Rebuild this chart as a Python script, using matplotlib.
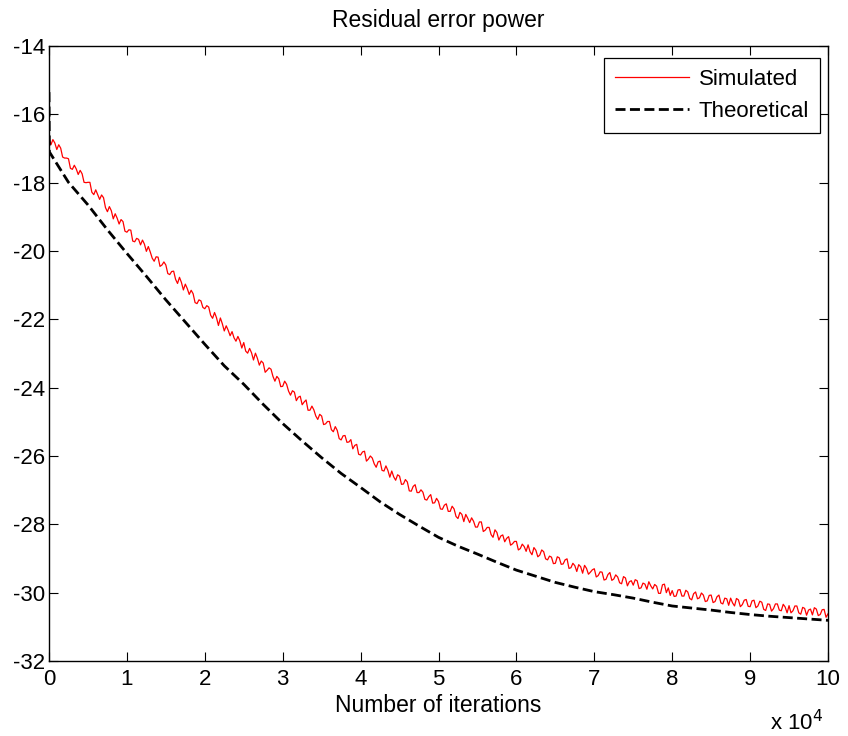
import numpy as np
import matplotlib
matplotlib.use("Agg")
import matplotlib.pyplot as plt

plt.rcParams['font.family'] = ['Liberation Sans', 'DejaVu Sans']

# Simulated residual error power (dB), one value every 500 iterations
sim_db = [
    -16.70, -16.74, -17.03, -16.99, -17.28, -17.30, -17.61, -17.60, -17.64, -17.99,
    -17.99, -18.28, -18.21, -18.49, -18.44, -18.85, -18.82, -18.91, -19.21, -19.14,
    -19.45, -19.39, -19.73, -19.66, -19.68, -20.01, -20.03, -20.30, -20.18, -20.41,
    -20.41, -20.69, -20.59, -20.95, -20.92, -20.97, -21.27, -21.25, -21.54, -21.46,
    -21.69, -21.64, -21.97, -21.95, -21.96, -22.34, -22.32, -22.36, -22.64, -22.63,
    -22.68, -22.99, -22.98, -22.99, -23.34, -23.28, -23.49, -23.46, -23.81, -23.74,
    -23.96, -23.90, -24.22, -24.13, -24.28, -24.50, -24.36, -24.66, -24.65, -24.93,
    -24.83, -25.06, -24.99, -25.29, -25.25, -25.53, -25.40, -25.59, -25.79, -25.66,
    -25.97, -25.86, -26.09, -26.06, -26.33, -26.15, -26.44, -26.42, -26.44, -26.71,
    -26.59, -26.82, -26.76, -27.03, -26.84, -27.07, -27.06, -27.29, -27.13, -27.37,
    -27.33, -27.56, -27.40, -27.62, -27.55, -27.83, -27.71, -27.71, -27.95, -27.91,
    -28.08, -27.93, -28.17, -28.09, -28.38, -28.24, -28.34, -28.51, -28.36, -28.57,
    -28.50, -28.71, -28.65, -28.60, -28.89, -28.76, -28.90, -28.80, -29.04, -28.96,
    -29.14, -28.98, -29.16, -29.01, -29.27, -29.21, -29.18, -29.43, -29.29, -29.40,
    -29.30, -29.50, -29.40, -29.61, -29.41, -29.60, -29.54, -29.74, -29.57, -29.68,
    -29.78, -29.65, -29.86, -29.75, -29.68, -29.89, -29.81, -30.02, -29.75, -29.86,
    -29.94, -30.10, -29.91, -30.10, -29.98, -30.21, -29.98, -30.15, -30.07, -30.24,
    -30.07, -30.26, -30.07, -30.33, -30.18, -30.16, -30.39, -30.21, -30.35, -30.20,
    -30.41, -30.22, -30.39, -30.28, -30.52, -30.34, -30.47, -30.33, -30.53, -30.42,
    -30.38, -30.53, -30.39, -30.63, -30.46, -30.51, -30.65, -30.48, -30.64, -30.49,
    -30.62,
]

# Simulated values half-way between the samples above (250, 750, ... iterations)
sim_db_half = [
    -16.89, -16.84, -16.89, -17.25, -17.28, -17.58, -17.49, -17.76, -17.74, -18.00,
    -17.99, -18.35, -18.35, -18.36, -18.73, -18.70, -19.06, -19.04, -19.08, -19.42,
    -19.38, -19.71, -19.63, -19.82, -19.80, -19.87, -20.21, -20.17, -20.45, -20.32,
    -20.66, -20.60, -20.83, -20.77, -21.14, -21.10, -21.15, -21.51, -21.43, -21.65,
    -21.60, -21.88, -21.80, -22.18, -22.13, -22.19, -22.48, -22.54, -22.50, -22.84,
    -22.93, -22.85, -23.19, -23.14, -23.22, -23.55, -23.42, -23.67, -23.67, -23.97,
    -23.81, -24.10, -24.09, -24.38, -24.25, -24.42, -24.66, -24.54, -24.83, -24.78,
    -25.08, -24.99, -25.23, -25.14, -25.49, -25.41, -25.60, -25.52, -25.69, -25.95,
    -25.88, -26.15, -26.00, -26.23, -26.17, -26.42, -26.29, -26.62, -26.61, -26.55,
    -26.83, -26.69, -27.02, -26.89, -27.07, -26.99, -27.27, -27.19, -27.38, -27.24,
    -27.55, -27.44, -27.62, -27.47, -27.77, -27.65, -27.92, -27.82, -27.81, -28.08,
    -27.93, -28.21, -28.09, -28.30, -28.16, -28.46, -28.31, -28.41, -28.61, -28.50,
    -28.75, -28.58, -28.79, -28.80, -28.68, -28.95, -28.75, -29.01, -28.93, -29.15,
    -28.95, -29.17, -29.04, -29.29, -29.14, -29.38, -29.24, -29.20, -29.46, -29.33,
    -29.54, -29.39, -29.63, -29.47, -29.64, -29.48, -29.71, -29.53, -29.80, -29.65,
    -29.62, -29.88, -29.72, -29.90, -29.80, -29.76, -30.02, -29.77, -30.00, -30.08,
    -30.11, -29.92, -30.10, -29.93, -30.17, -30.03, -30.18, -30.01, -30.26, -30.08,
    -30.29, -30.12, -30.30, -30.16, -30.37, -30.30, -30.17, -30.41, -30.22, -30.40,
    -30.24, -30.44, -30.25, -30.49, -30.33, -30.54, -30.33, -30.51, -30.34, -30.59,
    -30.59, -30.39, -30.59, -30.43, -30.66, -30.48, -30.44, -30.67, -30.50, -30.72,
]

# Theoretical residual error power (dB); x in units of 10^4 iterations
theo_x = [0.0, 0.005, 0.25, 0.50, 0.75, 1.00, 1.25, 1.50, 1.75, 2.00, 2.25, 2.50,
          2.75, 3.00, 3.25, 3.50, 3.75, 4.00, 4.25, 4.50, 4.75, 5.00, 5.25, 5.50,
          5.75, 6.00, 6.25, 6.50, 6.75, 7.00, 7.25, 7.50, 7.75, 8.00, 8.25, 8.50,
          8.75, 9.00, 9.25, 9.50, 9.75, 10.00]
theo_db = [-15.35, -17.10, -17.99, -18.65, -19.38, -20.07, -20.74, -21.43, -22.08,
           -22.73, -23.36, -23.90, -24.49, -25.05, -25.56, -26.05, -26.51, -26.92,
           -27.34, -27.71, -28.05, -28.38, -28.64, -28.87, -29.11, -29.34, -29.52,
           -29.70, -29.84, -29.97, -30.06, -30.16, -30.28, -30.39, -30.45, -30.51,
           -30.58, -30.64, -30.69, -30.73, -30.77, -30.81]

x_ticks = list(range(0, 11))
x_tick_labels = [str(t) for t in x_ticks]
y_ticks = list(range(-32, -13, 2))
y_tick_labels = [str(t) for t in y_ticks]

# Interleave the two simulated sample sets on a 250-iteration grid
sim_y = np.empty(len(sim_db) + len(sim_db_half))
sim_y[0::2] = sim_db
sim_y[1::2] = sim_db_half
sim_x = np.arange(len(sim_y)) * 0.025

fig = plt.figure(figsize=(8.48, 7.36), dpi=100)
ax = fig.add_axes([49 / 848, 1 - 661 / 736, (828 - 49) / 848, (661 - 46) / 736])

ax.plot(sim_x, sim_y, color='#ff0000', lw=0.9, label='Simulated')
ax.plot(theo_x, theo_db, color='black', lw=2.0, dashes=(3.6, 1.6), label='Theoretical')

ax.set_xlim(0, 10)
ax.set_ylim(-32, -14)
ax.set_xticks(x_ticks)
ax.set_xticklabels(x_tick_labels)
ax.set_yticks(y_ticks)
ax.set_yticklabels(y_tick_labels)

ax.tick_params(direction='in', length=6.5, width=0.8, top=True, right=True,
               labelsize=16, colors='black')
ax.tick_params(axis='x', pad=6)
ax.tick_params(axis='y', pad=3)
for s in ax.spines.values():
    s.set_linewidth(1.0)

ax.set_title('Residual error power', fontsize=16.5, pad=14)
ax.set_xlabel('Number of iterations', fontsize=16.5, labelpad=3)
fig.text(823 / 848, 1 - 730 / 736, r'x 10$^4$', fontsize=16, ha='right', va='baseline')

leg = ax.legend(loc='upper right', bbox_to_anchor=(820 / 848, 1 - 58 / 736),
                bbox_transform=fig.transFigure, borderaxespad=0, fontsize=16,
                fancybox=False, framealpha=1, edgecolor='black',
                handlelength=3.3, handletextpad=0.45, borderpad=0.5,
                labelspacing=0.5)
leg.get_frame().set_linewidth(0.9)

fig.savefig('out.png', dpi=100)
